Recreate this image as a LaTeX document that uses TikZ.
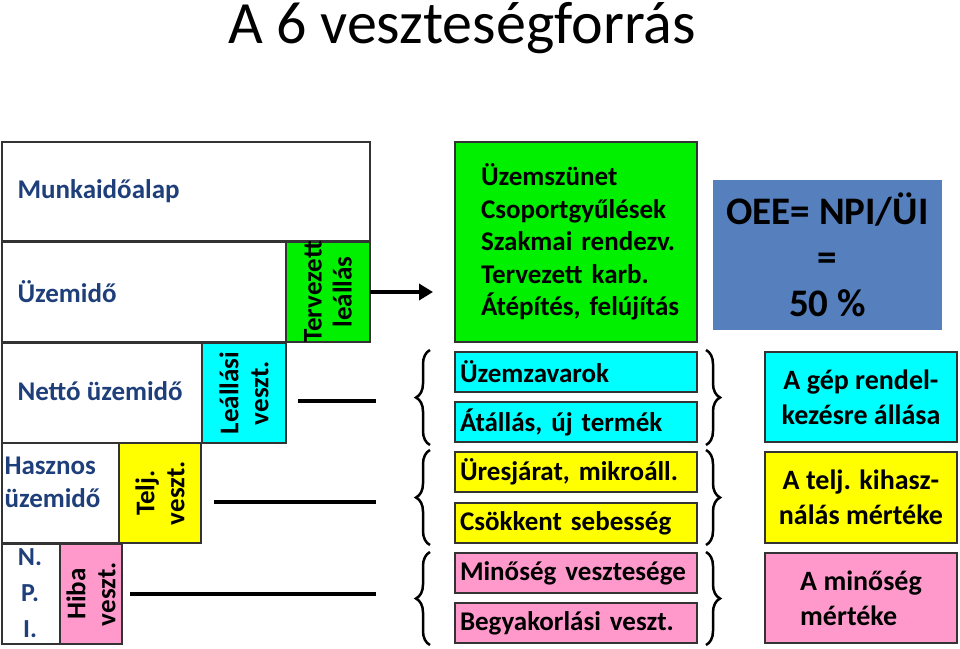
\documentclass[tikz,border=0pt]{standalone}
\usepackage{fontspec}
\setmainfont{Carlito}
\usetikzlibrary{arrows.meta,decorations.pathreplacing}
\definecolor{lblue}{HTML}{1F3F7A}
\definecolor{gfill}{HTML}{00F000}
\definecolor{cfill}{HTML}{00FFFF}
\definecolor{yfill}{HTML}{FFFF00}
\definecolor{pfill}{HTML}{FF99CC}
\definecolor{bfill}{HTML}{5580BD}
\tikzset{x=1pt,y=-1pt,
 bx/.style={draw=black!80,line width=1.2pt,inner sep=0pt,outer sep=0pt},
 lbl/.style={font=\fontsize{27}{30}\selectfont\bfseries,text=lblue},
 rot/.style={rotate=90,font=\fontsize{27}{30}\selectfont\bfseries,align=center},
 lst/.style={bx,anchor=north west,font=\fontsize{27}{30}\selectfont\bfseries,align=left,text width=232pt,minimum width=242pt,inner xsep=5pt,minimum height=40pt},
 rbox/.style={bx,anchor=north west,minimum width=192pt,font=\fontsize{28}{35}\selectfont\bfseries,align=center},
 br/.style={decorate,decoration={brace,amplitude=14pt},line width=2.5pt},
 conn/.style={line width=3.5pt}}
\begin{document}
\begin{tikzpicture}
\useasboundingbox (0,0) rectangle (960,648);
\node[font=\fontsize{60}{64}\selectfont] (title) at (462,28) {A 6 veszteségforrás};
% left staircase
\node[bx,anchor=north west,minimum width=368pt,minimum height=99pt] (mk) at (2,142) {};
\node[lbl,anchor=west] at (14,191) {Munkaidőalap};
\node[bx,anchor=north west,minimum width=285pt,minimum height=100pt] (uz) at (2,242) {};
\node[lbl,anchor=west] at (14,292) {Üzemidő};
\node[bx,fill=gfill,anchor=north west,minimum width=84pt,minimum height=100pt] (tl) at (286,242) {};
\node[rot] at (tl) {Tervezett\\leállás};
\node[bx,anchor=north west,minimum width=200pt,minimum height=100pt] (nu) at (2,343) {};
\node[lbl,anchor=west] at (14,391) {Nettó üzemidő};
\node[bx,fill=cfill,anchor=north west,minimum width=84pt,minimum height=100pt] (lv) at (202,343) {};
\node[rot] at (lv) {Leállási\\veszt.};
\node[bx,anchor=north west,minimum width=117pt,minimum height=100pt] (hu) at (2,443) {};
\node[lbl,anchor=west,align=left,font=\fontsize{27}{33}\selectfont\bfseries] at (1,482) {Hasznos\\üzemidő};
\node[bx,fill=yfill,anchor=north west,minimum width=82pt,minimum height=100pt] (tv) at (119,443) {};
\node[rot] at (tv) {Telj.\\veszt.};
\node[bx,anchor=north west,minimum width=58pt,minimum height=100pt] (npi) at (2,544) {};
\node[lbl,align=center,font=\fontsize{26}{36}\selectfont\bfseries] at (30,593) {N.\\P.\\I.};
\node[bx,fill=pfill,anchor=north west,minimum width=62pt,minimum height=100pt] (hv) at (60,544) {};
\node[rot] at (hv) {Hiba\\veszt.};
% green list
\node[bx,fill=gfill,anchor=north west,minimum width=242pt,minimum height=200pt,text width=224pt,inner xsep=0pt,align=left,font=\fontsize{27}{32.5}\selectfont\bfseries] (gl) at (455,142) {\hspace*{17pt}Üzemszünet\\\hspace*{17pt}Csoportgyűlések\\\hspace*{17pt}Szakmai rendezv.\\\hspace*{17pt}Tervezett karb.\\\hspace*{17pt}Átépítés, felújítás};
\draw[line width=4pt,-{Triangle[length=14pt,width=16pt]},shorten >=22pt] (tl.east) -- (tl.east -| gl.west);
% OEE
\node[bx,draw=none,fill=bfill,anchor=north west,minimum width=229pt,minimum height=150pt,align=center,font=\fontsize{39}{46}\selectfont\bfseries] (oee) at (713,180) {OEE= NPI/ÜI\\=\\50 \%};
% lists
\node[lst,fill=cfill] (c1) at (455,352) {Üzemzavarok};
\node[lst,fill=cfill] (c2) at (455,402) {Átállás, új termék};
\node[lst,fill=yfill] (y1) at (455,452) {Üresjárat, mikroáll.};
\node[lst,fill=yfill] (y2) at (455,503) {Csökkent sebesség};
\node[lst,fill=pfill] (p1) at (455,553) {Minőség vesztesége};
\node[lst,fill=pfill] (p2) at (455,603) {Begyakorlási veszt.};
% right boxes
\node[rbox,fill=cfill,minimum height=90pt] (rc) at (765,352) {A gép rendel-\\kezésre állása};
\node[rbox,fill=yfill,minimum height=91pt] (ry) at (765,452) {A telj. kihasz-\\nálás mértéke};
\node[rbox,fill=pfill,minimum height=90pt,align=left] (rp) at (765,553) {A minőség\\mértéke};
% left braces
\draw[br] (430,445) -- (430,350);
\draw[br] (430,545) -- (430,450);
\draw[br] (430,645) -- (430,552);
% right braces
\draw[br] (706,350) -- (706,445);
\draw[br] (706,450) -- (706,545);
\draw[br] (706,552) -- (706,645);
% connector lines
\coordinate (e1) at (376,401); \coordinate (e2) at (376,502); \coordinate (e3) at (376,594);
\draw[conn] (298,401) -- (e1);
\draw[conn] (214,502) -- (e2);
\draw[conn] (130,594) -- (e3);
\end{tikzpicture}
\end{document}
